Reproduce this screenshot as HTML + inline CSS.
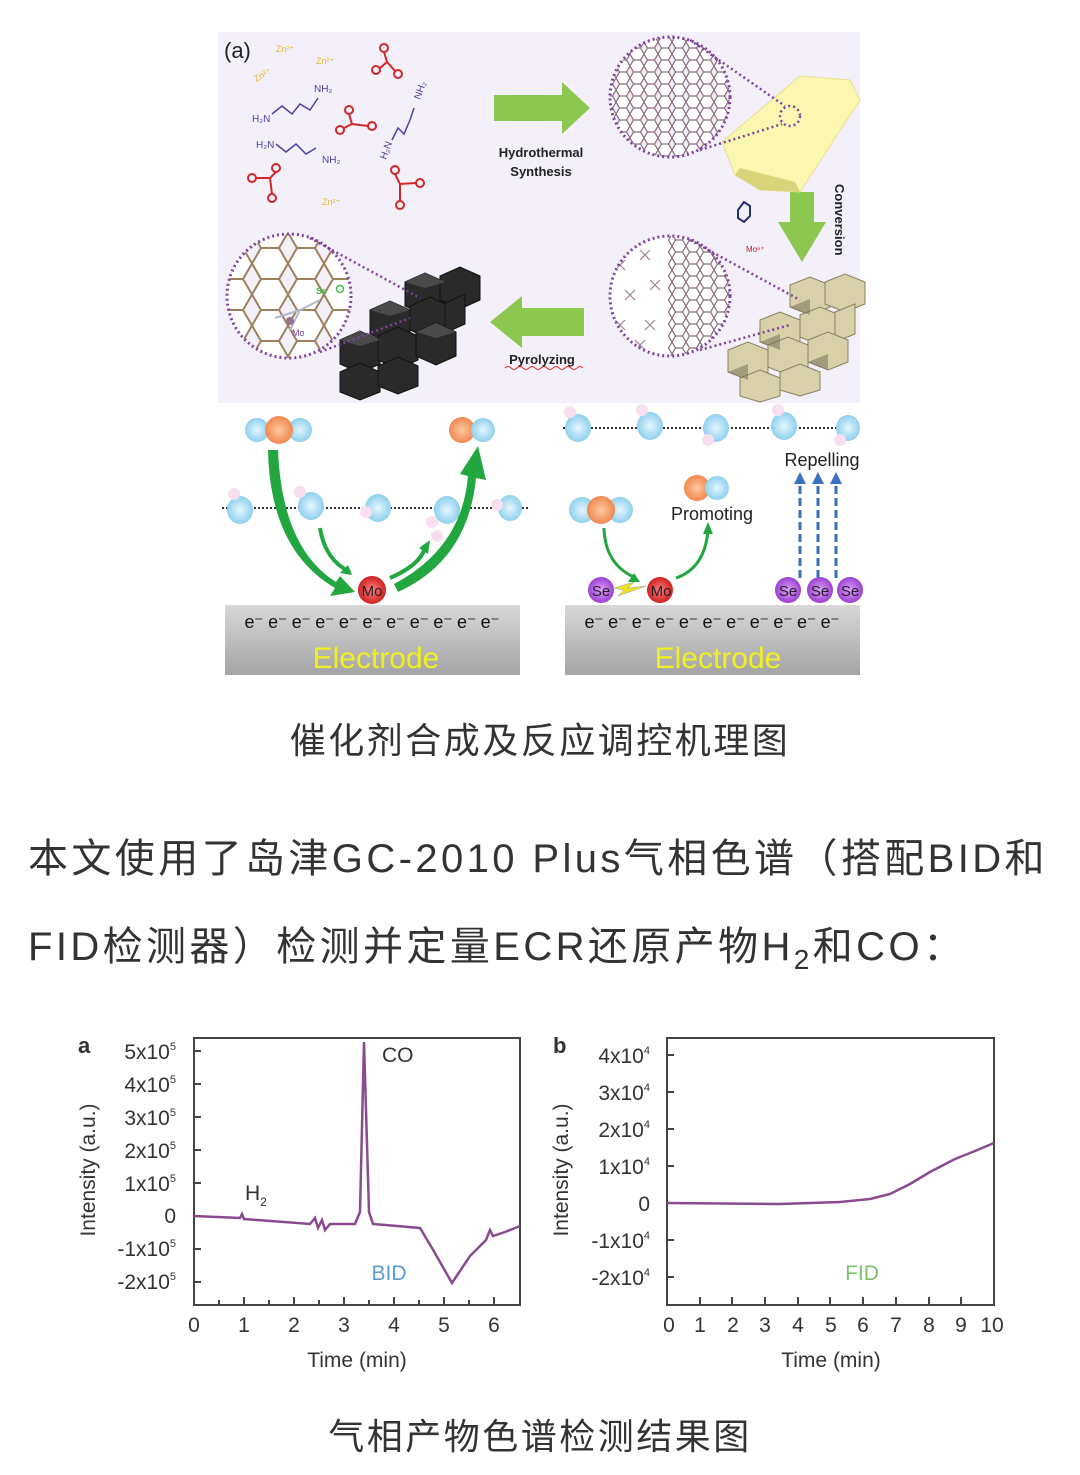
<!DOCTYPE html>
<html><head><meta charset="utf-8">
<style>
html,body{margin:0;padding:0;background:#fff;}
body{width:1080px;height:1475px;position:relative;overflow:hidden;font-family:"Liberation Sans","Noto Sans CJK SC",sans-serif;}
.cap{position:absolute;left:0;width:1080px;text-align:center;font-size:36px;letter-spacing:2.5px;color:#333;font-family:"Liberation Sans","Noto Sans CJK SC",sans-serif;}
.p{position:absolute;left:28px;font-size:40px;color:#333;white-space:nowrap;letter-spacing:3.4px;}
svg{position:absolute;left:0;top:0;}
</style></head><body>
<svg width="1080" height="1475" viewBox="0 0 1080 1475" xmlns="http://www.w3.org/2000/svg" font-family="Liberation Sans, sans-serif">
<defs>
<pattern id="hex" width="14" height="12" patternUnits="userSpaceOnUse">
<path d="M0,6 L3.5,0 L10.5,0 L14,6 L10.5,12 L3.5,12 Z" fill="#fff" stroke="#8a6a7a" stroke-width="1.2"/>
<circle cx="3.5" cy="0" r="1" fill="#6a9a5a"/>
</pattern>
<pattern id="hexbig" width="36" height="31" patternUnits="userSpaceOnUse">
<path d="M0,15.5 L9,0 L27,0 L36,15.5 L27,31 L9,31 Z" fill="#fff" stroke="#a0805a" stroke-width="2"/>
</pattern>
<linearGradient id="el" x1="0" y1="0" x2="0" y2="1"><stop offset="0" stop-color="#d8d8d8"/><stop offset="1" stop-color="#a4a4a4"/></linearGradient>
<radialGradient id="blu"><stop offset="0" stop-color="#e6f6ff"/><stop offset="1" stop-color="#8fd0ee"/></radialGradient>
<radialGradient id="org"><stop offset="0" stop-color="#ffc8a0"/><stop offset="1" stop-color="#f08850"/></radialGradient>
<radialGradient id="red"><stop offset="0" stop-color="#ff8080"/><stop offset="1" stop-color="#d02020"/></radialGradient>
<radialGradient id="pur"><stop offset="0" stop-color="#e0a0ff"/><stop offset="1" stop-color="#9a40d0"/></radialGradient>
<clipPath id="c2"><circle cx="670" cy="296" r="60"/></clipPath>
</defs>

<rect x="218" y="32" width="642" height="371" fill="#f4f0fa"/>
<text x="224" y="58" font-size="22" fill="#222">(a)</text>
<g font-size="9" fill="#e8b830"><text x="276" y="52">Zn²⁺</text><text x="316" y="64">Zn²⁺</text><text x="256" y="82" transform="rotate(-30 256 82)">Zn²⁺</text><text x="322" y="205">Zn²⁺</text></g>
<g fill="none" stroke="#d02828" stroke-width="2">
<circle cx="384" cy="48" r="4"/><circle cx="376" cy="70" r="4"/><circle cx="398" cy="74" r="4"/><path d="M384,52 L387,62 L380,68 M387,62 L395,71"/>
<circle cx="349" cy="110" r="4"/><circle cx="340" cy="130" r="4"/><circle cx="372" cy="126" r="4"/><path d="M349,114 L352,124 L344,128 M352,124 L368,126"/>
<circle cx="252" cy="178" r="4"/><circle cx="276" cy="168" r="4"/><circle cx="272" cy="198" r="4"/><path d="M256,178 L270,178 L276,172 M270,178 L272,194"/>
<circle cx="395" cy="170" r="4"/><circle cx="400" cy="205" r="4"/><circle cx="420" cy="183" r="4"/><path d="M395,174 L400,184 L416,183 M400,184 L400,201"/>
</g>
<g font-size="10" fill="#5040a0"><text x="252" y="122">H₂N</text><text x="314" y="92">NH₂</text><text x="256" y="148">H₂N</text><text x="322" y="163">NH₂</text><text x="386" y="160" transform="rotate(-70 386 160)">H₂N</text><text x="420" y="100" transform="rotate(-70 420 100)">NH₂</text></g>
<g fill="none" stroke="#5040a0" stroke-width="1.5"><path d="M272,114 L282,106 L292,114 L300,104 L310,110 L318,98"/><path d="M276,144 L286,152 L296,144 L306,154 L316,148"/><path d="M392,140 L398,128 L404,134 L410,120 L414,108"/></g>
<path d="M494,95 L562,95 L562,82 L590,108 L562,134 L562,121 L494,121 Z" fill="#8cc850"/>
<text x="541" y="157" font-size="13" font-weight="bold" fill="#222" text-anchor="middle">Hydrothermal</text>
<text x="541" y="176" font-size="13" font-weight="bold" fill="#222" text-anchor="middle">Synthesis</text>
<path d="M790,192 L814,192 L814,222 L826,222 L802,262 L778,222 L790,222 Z" fill="#8cc850"/>
<text x="835" y="184" font-size="13" font-weight="bold" fill="#222" transform="rotate(90 835 184)">Conversion</text>
<path d="M584,308 L522,308 L522,296 L490,322 L522,348 L522,336 L584,336 Z" fill="#8cc850"/>
<text x="542" y="364" font-size="13" font-weight="bold" fill="#222" text-anchor="middle">Pyrolyzing</text>
<path d="M505,368 q3,-3 6,0 t6,0 t6,0 t6,0 t6,0 t6,0 t6,0 t6,0 t6,0 t6,0 t6,0 t6,0 t6,0" fill="none" stroke="#e03030" stroke-width="1"/>
<path d="M850,80 L860,100 L800,192 L760,190 L735,175 L722,142 L800,76 Z" fill="#fbf7b0" stroke="#e8e090"/>
<path d="M735,175 L760,190 L800,192 L795,182 L740,168 Z" fill="#d8d47a"/>
<circle cx="670" cy="97" r="60" fill="url(#hex)"/>
<circle cx="670" cy="97" r="60" fill="none" stroke="#8040a0" stroke-width="3" stroke-dasharray="2 3"/>
<circle cx="790" cy="116" r="10" fill="none" stroke="#8040a0" stroke-width="2.5" stroke-dasharray="2 3"/>
<path d="M690,40 L785,106 M700,150 L782,124" stroke="#8040a0" stroke-width="2.5" stroke-dasharray="2 3"/>
<path d="M738,210 l6,-8 l6,4 l0,10 l-6,6 l-6,-4 Z" fill="none" stroke="#203070" stroke-width="2"/>
<text x="746" y="252" font-size="8" fill="#c02020">Mo⁶⁺</text>
<g fill="#d8d0a8" stroke="#8a8060" stroke-width="1">
<path d="M790,285 l20,-8 l20,8 l0,22 l-20,8 l-20,-8 Z"/><path d="M825,282 l20,-8 l20,8 l0,22 l-20,8 l-20,-8 Z"/>
<path d="M760,320 l20,-8 l20,8 l0,22 l-20,8 l-20,-8 Z"/><path d="M800,315 l20,-8 l20,8 l0,22 l-20,8 l-20,-8 Z"/><path d="M835,312 l20,-8 l0,30 l-20,8 Z"/>
<path d="M728,350 l20,-8 l20,8 l0,22 l-20,8 l-20,-8 Z"/><path d="M768,345 l20,-8 l20,8 l0,22 l-20,8 l-20,-8 Z"/><path d="M808,340 l20,-8 l20,8 l0,22 l-20,8 l-20,-8 Z"/>
<path d="M740,378 l20,-8 l20,8 l0,18 l-20,6 l-20,-6 Z"/><path d="M780,372 l20,-8 l20,8 l0,18 l-20,6 l-20,-6 Z"/>
</g>
<g fill="#6e6850"><path d="M790,307 l20,8 l0,-16 Z" opacity=".5"/><path d="M760,342 l20,8 l0,-16 Z" opacity=".5"/><path d="M728,372 l20,8 l0,-16 Z" opacity=".5"/><path d="M808,362 l20,8 l0,-16 Z" opacity=".5"/></g>
<g clip-path="url(#c2)"><rect x="610" y="236" width="120" height="120" fill="#fff"/><rect x="668" y="236" width="62" height="120" fill="url(#hex)"/>
<g fill="none" stroke="#a08090" stroke-width="1.2"><path d="M615,260 l10,10 m-10,0 l10,-10 M640,250 l10,10 m-10,0 l10,-10 M625,290 l10,10 m-10,0 l10,-10 M650,280 l10,10 m-10,0 l10,-10 M615,320 l10,10 m-10,0 l10,-10 M645,320 l10,10 m-10,0 l10,-10 M635,340 l10,10 m-10,0 l10,-10"/></g></g>
<circle cx="670" cy="296" r="60" fill="none" stroke="#8040a0" stroke-width="3" stroke-dasharray="2 3"/>
<path d="M690,240 L800,300 M700,350 L790,325" stroke="#8040a0" stroke-width="2.5" stroke-dasharray="2 3"/>
<g fill="#2a2a2a" stroke="#111" stroke-width="1">
<path d="M405,282 l20,-9 l20,9 l0,24 l-20,9 l-20,-9 Z"/><path d="M440,276 l20,-9 l20,9 l0,24 l-20,9 l-20,-9 Z"/>
<path d="M370,310 l20,-9 l20,9 l0,24 l-20,9 l-20,-9 Z"/><path d="M410,306 l20,-9 l20,9 l0,24 l-20,9 l-20,-9 Z"/><path d="M445,303 l20,-9 l0,30 l-20,9 Z"/>
<path d="M340,340 l20,-9 l20,9 l0,24 l-20,9 l-20,-9 Z"/><path d="M378,336 l20,-9 l20,9 l0,24 l-20,9 l-20,-9 Z"/><path d="M416,332 l20,-9 l20,9 l0,24 l-20,9 l-20,-9 Z"/>
<path d="M340,372 l20,-9 l20,9 l0,20 l-20,8 l-20,-8 Z"/><path d="M378,366 l20,-9 l20,9 l0,20 l-20,8 l-20,-8 Z"/>
</g>
<g fill="#4a4a4a"><path d="M405,282 l20,-9 l20,9 l-20,6 Z"/><path d="M370,310 l20,-9 l20,9 l-20,6 Z"/><path d="M340,340 l20,-9 l20,9 l-20,6 Z"/><path d="M416,332 l20,-9 l20,9 l-20,6 Z"/></g>
<circle cx="289" cy="296" r="62" fill="url(#hexbig)"/>
<path d="M300,310 L320,300 M300,310 L290,330 M300,310 L275,318" stroke="#b0b8d0" stroke-width="2"/>
<circle cx="290" cy="321" r="4" fill="#9a7090"/>
<text x="316" y="294" font-size="9" font-weight="bold" fill="#40c040">Se</text><circle cx="340" cy="289" r="3.5" fill="none" stroke="#40c040" stroke-width="1.5"/>
<text x="292" y="336" font-size="9" fill="#7040a0">Mo</text>
<circle cx="289" cy="296" r="62" fill="none" stroke="#8040a0" stroke-width="3" stroke-dasharray="2 3"/>
<path d="M310,238 L420,298 M320,352 L410,318" stroke="#8040a0" stroke-width="2.5" stroke-dasharray="2 3"/>

<g>
<circle cx="257" cy="430" r="12" fill="url(#blu)"/><circle cx="300" cy="430" r="12" fill="url(#blu)"/><circle cx="279" cy="430" r="14" fill="url(#org)"/>
<circle cx="462" cy="430" r="13" fill="url(#org)"/><circle cx="483" cy="430" r="12" fill="url(#blu)"/>
<line x1="222" y1="508" x2="528" y2="508" stroke="#333" stroke-width="2" stroke-dasharray="2 2"/>
<g fill="url(#blu)"><ellipse cx="240" cy="510" rx="13" ry="14"/><ellipse cx="311" cy="506" rx="13" ry="14"/><ellipse cx="378" cy="508" rx="13" ry="14"/><ellipse cx="447" cy="510" rx="13" ry="14"/><ellipse cx="510" cy="508" rx="12" ry="13"/></g>
<g fill="#f8dff0"><circle cx="234" cy="494" r="6"/><circle cx="300" cy="492" r="6"/><circle cx="366" cy="512" r="6"/><circle cx="432" cy="522" r="6"/><circle cx="437" cy="536" r="6"/><circle cx="497" cy="505" r="6"/></g>
<path d="M268,450 Q270,550 335,588 L330,596 L355,592 L340,576 L336,582 Q282,548 278,450 Z" fill="#22a640"/>
<path d="M320,528 Q325,560 350,572" fill="none" stroke="#22a640" stroke-width="4"/><path d="M352,575 l-12,-2 l8,-8 Z" fill="#22a640"/>
<path d="M390,578 Q420,565 425,548" fill="none" stroke="#22a640" stroke-width="4"/><path d="M430,540 l-2,14 l-9,-6 Z" fill="#22a640"/>
<path d="M398,592 Q468,560 476,478 L486,480 L478,446 L460,474 L468,476 Q462,548 394,584 Z" fill="#22a640"/>
<circle cx="372" cy="590" r="14" fill="url(#red)"/><text x="372" y="596" font-size="15" fill="#222" text-anchor="middle">Mo</text>
<rect x="225" y="605" width="295" height="70" fill="url(#el)"/>
<text x="372" y="628" font-size="18" fill="#111" text-anchor="middle" letter-spacing="-0.3">e⁻ e⁻ e⁻ e⁻ e⁻ e⁻ e⁻ e⁻ e⁻ e⁻ e⁻</text>
<text x="376" y="668" font-size="30" fill="#f0f020" text-anchor="middle">Electrode</text>
</g>
<g>
<line x1="563" y1="428" x2="858" y2="428" stroke="#333" stroke-width="2" stroke-dasharray="2 2"/>
<g fill="url(#blu)"><ellipse cx="578" cy="428" rx="13" ry="14"/><ellipse cx="650" cy="426" rx="13" ry="14"/><ellipse cx="716" cy="428" rx="13" ry="14"/><ellipse cx="784" cy="426" rx="13" ry="14"/><ellipse cx="848" cy="428" rx="12" ry="13"/></g>
<g fill="#f8dff0"><circle cx="570" cy="412" r="6"/><circle cx="642" cy="410" r="6"/><circle cx="708" cy="440" r="6"/><circle cx="778" cy="410" r="6"/><circle cx="840" cy="440" r="6"/></g>
<circle cx="582" cy="510" r="13" fill="url(#blu)"/><circle cx="620" cy="510" r="13" fill="url(#blu)"/><circle cx="601" cy="510" r="14" fill="url(#org)"/>
<circle cx="697" cy="488" r="13" fill="url(#org)"/><circle cx="717" cy="488" r="12" fill="url(#blu)"/>
<text x="712" y="520" font-size="18" fill="#222" text-anchor="middle">Promoting</text>
<text x="822" y="466" font-size="18" fill="#222" text-anchor="middle">Repelling</text>
<path d="M604,528 Q605,565 636,578" fill="none" stroke="#22a640" stroke-width="3"/><path d="M640,582 l-12,0 l6,-9 Z" fill="#22a640"/>
<path d="M676,578 Q705,568 708,530" fill="none" stroke="#22a640" stroke-width="3"/><path d="M708,522 l5,12 l-10,0 Z" fill="#22a640"/>
<g stroke="#3a70c0" stroke-width="3" stroke-dasharray="8 4"><line x1="800" y1="578" x2="800" y2="482"/><line x1="818" y1="578" x2="818" y2="482"/><line x1="836" y1="578" x2="836" y2="482"/></g>
<g fill="#3a70c0"><path d="M794,484 l6,-12 l6,12 Z"/><path d="M812,484 l6,-12 l6,12 Z"/><path d="M830,484 l6,-12 l6,12 Z"/></g>
<circle cx="601" cy="590" r="13" fill="url(#pur)"/><circle cx="660" cy="590" r="13" fill="url(#red)"/>
<path d="M614,588 l20,-6 l-6,6 l18,-2 l-28,10 l6,-6 Z" fill="#f0e020" stroke="#999" stroke-width=".5"/>
<circle cx="788" cy="590" r="13" fill="url(#pur)"/><circle cx="820" cy="590" r="13" fill="url(#pur)"/><circle cx="850" cy="590" r="13" fill="url(#pur)"/>
<g font-size="15" fill="#222" text-anchor="middle"><text x="601" y="596">Se</text><text x="661" y="596">Mo</text><text x="788" y="596">Se</text><text x="820" y="596">Se</text><text x="850" y="596">Se</text></g>
<rect x="565" y="605" width="295" height="70" fill="url(#el)"/>
<text x="712" y="628" font-size="18" fill="#111" text-anchor="middle" letter-spacing="-0.3">e⁻ e⁻ e⁻ e⁻ e⁻ e⁻ e⁻ e⁻ e⁻ e⁻ e⁻</text>
<text x="718" y="668" font-size="30" fill="#f0f020" text-anchor="middle">Electrode</text>
</g>

<g font-size="21" fill="#333" stroke="none">
<rect x="194" y="1038" width="326" height="267" fill="none" stroke="#444" stroke-width="2"/>
<text x="78" y="1053" font-weight="bold" font-size="22">a</text>
<g text-anchor="end">
<text x="176" y="1059">5x10<tspan font-size="11" dy="-9">5</tspan></text>
<text x="176" y="1092">4x10<tspan font-size="11" dy="-9">5</tspan></text>
<text x="176" y="1125">3x10<tspan font-size="11" dy="-9">5</tspan></text>
<text x="176" y="1158">2x10<tspan font-size="11" dy="-9">5</tspan></text>
<text x="176" y="1191">1x10<tspan font-size="11" dy="-9">5</tspan></text>
<text x="176" y="1223">0</text>
<text x="176" y="1256">-1x10<tspan font-size="11" dy="-9">5</tspan></text>
<text x="176" y="1289">-2x10<tspan font-size="11" dy="-9">5</tspan></text>
</g>
<g stroke="#444" stroke-width="2"><path d="M194,1051h7M194,1084h7M194,1117h7M194,1150h7M194,1183h7M194,1216h7M194,1249h7M194,1282h7"/>
<path d="M194,1305v-8M219,1305v-5M244,1305v-8M269,1305v-5M294,1305v-8M319,1305v-5M344,1305v-8M369,1305v-5M394,1305v-8M419,1305v-5M444,1305v-8M469,1305v-5M494,1305v-8"/></g>
<g text-anchor="middle"><text x="194" y="1332">0</text><text x="244" y="1332">1</text><text x="294" y="1332">2</text><text x="344" y="1332">3</text><text x="394" y="1332">4</text><text x="444" y="1332">5</text><text x="494" y="1332">6</text></g>
<text x="357" y="1367" text-anchor="middle">Time (min)</text>
<text x="95" y="1170" text-anchor="middle" transform="rotate(-90 95 1170)">Intensity (a.u.)</text>
<text x="382" y="1062">CO</text>
<text x="245" y="1200">H<tspan font-size="12" dy="6">2</tspan></text>
<text x="389" y="1280" text-anchor="middle" fill="#5a9ad0">BID</text>
<path d="M194,1216 L240,1218 L242,1214 L244,1219 L310,1224 L315,1218 L318,1228 L322,1220 L325,1230 L330,1224 L355,1224 L360,1212 L364,1042 L369,1212 L373,1224 L420,1228 L432,1248 L452,1283 L470,1256 L486,1240 L490,1230 L493,1236 L505,1232 L520,1226" fill="none" stroke="#8a4a90" stroke-width="2.5"/>
</g>
<g font-size="21" fill="#333">
<rect x="667" y="1038" width="327" height="267" fill="none" stroke="#444" stroke-width="2"/>
<text x="553" y="1053" font-weight="bold" font-size="22">b</text>
<g text-anchor="end">
<text x="650" y="1063">4x10<tspan font-size="11" dy="-9">4</tspan></text>
<text x="650" y="1100">3x10<tspan font-size="11" dy="-9">4</tspan></text>
<text x="650" y="1137">2x10<tspan font-size="11" dy="-9">4</tspan></text>
<text x="650" y="1174">1x10<tspan font-size="11" dy="-9">4</tspan></text>
<text x="650" y="1211">0</text>
<text x="650" y="1248">-1x10<tspan font-size="11" dy="-9">4</tspan></text>
<text x="650" y="1285">-2x10<tspan font-size="11" dy="-9">4</tspan></text>
</g>
<g stroke="#444" stroke-width="2"><path d="M667,1055h7M667,1092h7M667,1129h7M667,1166h7M667,1203h7M667,1240h7M667,1277h7"/>
<path d="M667,1305v-8M700,1305v-8M732,1305v-8M765,1305v-8M798,1305v-8M830,1305v-8M863,1305v-8M896,1305v-8M929,1305v-8M961,1305v-8M994,1305v-8"/></g>
<g text-anchor="middle"><text x="669" y="1332">0</text><text x="700" y="1332">1</text><text x="733" y="1332">2</text><text x="765" y="1332">3</text><text x="798" y="1332">4</text><text x="831" y="1332">5</text><text x="863" y="1332">6</text><text x="896" y="1332">7</text><text x="929" y="1332">8</text><text x="961" y="1332">9</text><text x="992" y="1332">10</text></g>
<text x="831" y="1367" text-anchor="middle">Time (min)</text>
<text x="568" y="1170" text-anchor="middle" transform="rotate(-90 568 1170)">Intensity (a.u.)</text>
<text x="862" y="1280" text-anchor="middle" fill="#7cc070">FID</text>
<path d="M667,1203 L780,1204 L840,1202 L870,1199 L890,1194 L910,1184 L930,1172 L955,1159 L975,1151 L994,1143" fill="none" stroke="#8a4a90" stroke-width="2.5"/>
</g>
</svg>

<div class="cap" style="top:712px;">催化剂合成及反应调控机理图</div>
<div class="p" style="top:826px;">本文使用了岛津GC-2010 Plus气相色谱（搭配BID和</div>
<div class="p" style="top:914px;">FID检测器）检测并定量ECR还原产物H<sub style="font-size:28px;">2</sub>和CO：</div>
<div class="cap" style="top:1408px;">气相产物色谱检测结果图</div>
</body></html>
